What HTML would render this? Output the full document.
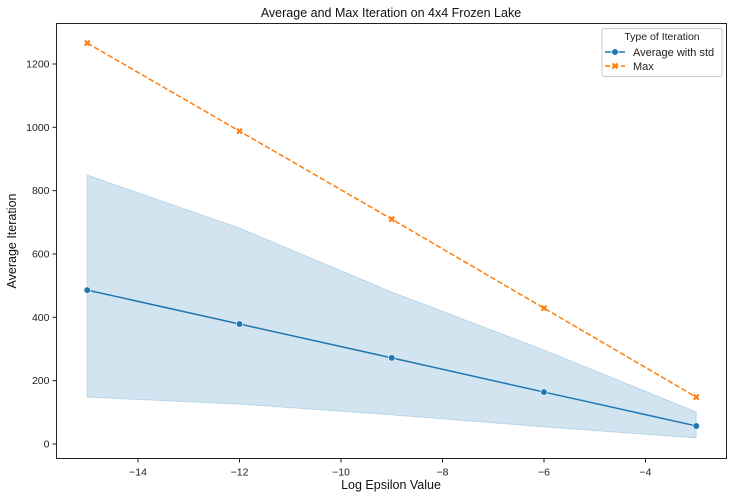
<!DOCTYPE html>
<html><head><meta charset="utf-8"><style>
html,body{margin:0;padding:0;background:#fff;}
svg{display:block;font-family:"Liberation Sans","DejaVu Sans",sans-serif;}
</style></head><body>
<svg id="chart" width="733" height="499" viewBox="0 0 733 499"></svg>
<script>
const xValues=[-15,-12,-9,-6,-3];
const avgValues=[486,379,272,164,57];
const maxValues=[1266,988,710,429,148];
const upperValues=[849,682,480,297,101];
const lowerValues=[148,126,92,54,19];
const xTicks=[-14,-12,-10,-8,-6,-4];
const yTicks=[0,200,400,600,800,1000,1200];
const xTickLabels=["\u221214","\u221212","\u221210","\u22128","\u22126","\u22124"];
const yTickLabels=["0","200","400","600","800","1000","1200"];

const NS="http://www.w3.org/2000/svg";
const svg=document.getElementById('chart');
const L=56.5,R=726.5,T=23.5,B=458.5;
function xs(v){return 138+(v+14)*50.75;}
function ys(v){return 444-v*0.31667;}
function mk(tag,attrs,parent){const e=document.createElementNS(NS,tag);for(const k in attrs)e.setAttribute(k,attrs[k]);(parent||svg).appendChild(e);return e;}

let pts=xValues.map((x,i)=>xs(x)+','+ys(upperValues[i]));
pts=pts.concat(xValues.map((x,i)=>xs(x)+','+ys(lowerValues[i])).reverse());
const band=mk('polygon',{points:pts.join(' '),fill:'#1f77b4','fill-opacity':0.2,stroke:'#1f77b4','stroke-opacity':0.2});



const avgLine=mk('polyline',{points:xValues.map((x,i)=>xs(x)+','+ys(avgValues[i])).join(' '),fill:'none',stroke:'#1f77b4','stroke-width':1.5});


xValues.forEach((x,i)=>{
  const c=mk('circle',{cx:xs(x),cy:ys(avgValues[i]),r:3.3,fill:'#1f77b4',stroke:'#fff','stroke-width':0.6});
  
  
});
const maxLine=mk('polyline',{points:xValues.map((x,i)=>xs(x)+','+ys(maxValues[i])).join(' '),fill:'none',stroke:'#ff7f0e','stroke-width':1.5,'stroke-dasharray':'5.5,2.4'});


function xMark(cx,cy,parent){
  return mk('path',{d:`M${cx-2.5},${cy-2.5}L${cx+2.5},${cy+2.5}M${cx-2.5},${cy+2.5}L${cx+2.5},${cy-2.5}`,stroke:'#ff7f0e','stroke-width':2.2},parent);
}
xValues.forEach((x,i)=>{
  const m=xMark(xs(x),ys(maxValues[i]));
  
  
});

const frame=mk('rect',{x:L,y:T,width:R-L,height:B-T,fill:'none',stroke:'#222','stroke-width':1});



xTicks.forEach((t,i)=>{
  const x=xs(t);
  const tk=mk('line',{x1:x,y1:B,x2:x,y2:B+4,stroke:'#222'});
  
  
  const tx=mk('text',{x:x,y:B+17,'font-size':10.5,'text-anchor':'middle',fill:'#222'});
  tx.textContent=xTickLabels[i];
  
  
});
yTicks.forEach((t,i)=>{
  const y=ys(t);
  const tk=mk('line',{x1:L-4,y1:y,x2:L,y2:y,stroke:'#222'});
  
  
  const tx=mk('text',{x:L-7,y:y+3.5,'font-size':10.5,'text-anchor':'end',fill:'#222'});
  tx.textContent=yTickLabels[i];
  
  
});

const title=mk('text',{x:391,y:17,'font-size':12.5,'text-anchor':'middle',fill:'#111'});
title.textContent='Average and Max Iteration on 4x4 Frozen Lake';


const xl=mk('text',{x:391,y:489,'font-size':12.5,'text-anchor':'middle',fill:'#111'});
xl.textContent='Log Epsilon Value';


const yl=mk('text',{x:16,y:241,'font-size':12.5,'text-anchor':'middle',fill:'#111',transform:'rotate(-90 16 241)'});
yl.textContent='Average Iteration';



const lg=mk('g',{});


mk('rect',{x:602,y:28.5,width:120,height:48,rx:2,fill:'#fff','fill-opacity':0.8,stroke:'#ccc'},lg);
const lt=mk('text',{x:662,y:40,'font-size':10.5,'text-anchor':'middle',fill:'#222'},lg);
lt.textContent='Type of Iteration';


const e1=mk('g',{},lg);


mk('line',{x1:605,y1:52,x2:625,y2:52,stroke:'#1f77b4','stroke-width':1.5},e1);
mk('circle',{cx:615,cy:52,r:3.3,fill:'#1f77b4',stroke:'#fff','stroke-width':0.6},e1);
const t1=mk('text',{x:633,y:56,'font-size':11,fill:'#222'},e1);t1.textContent='Average with std';
const e2=mk('g',{},lg);


mk('line',{x1:605,y1:66,x2:625,y2:66,stroke:'#ff7f0e','stroke-width':1.5,'stroke-dasharray':'5.5,2.4'},e2);
xMark(615,66,e2);
const t2=mk('text',{x:633,y:70,'font-size':11,fill:'#222'},e2);t2.textContent='Max';
</script>
</body></html>
